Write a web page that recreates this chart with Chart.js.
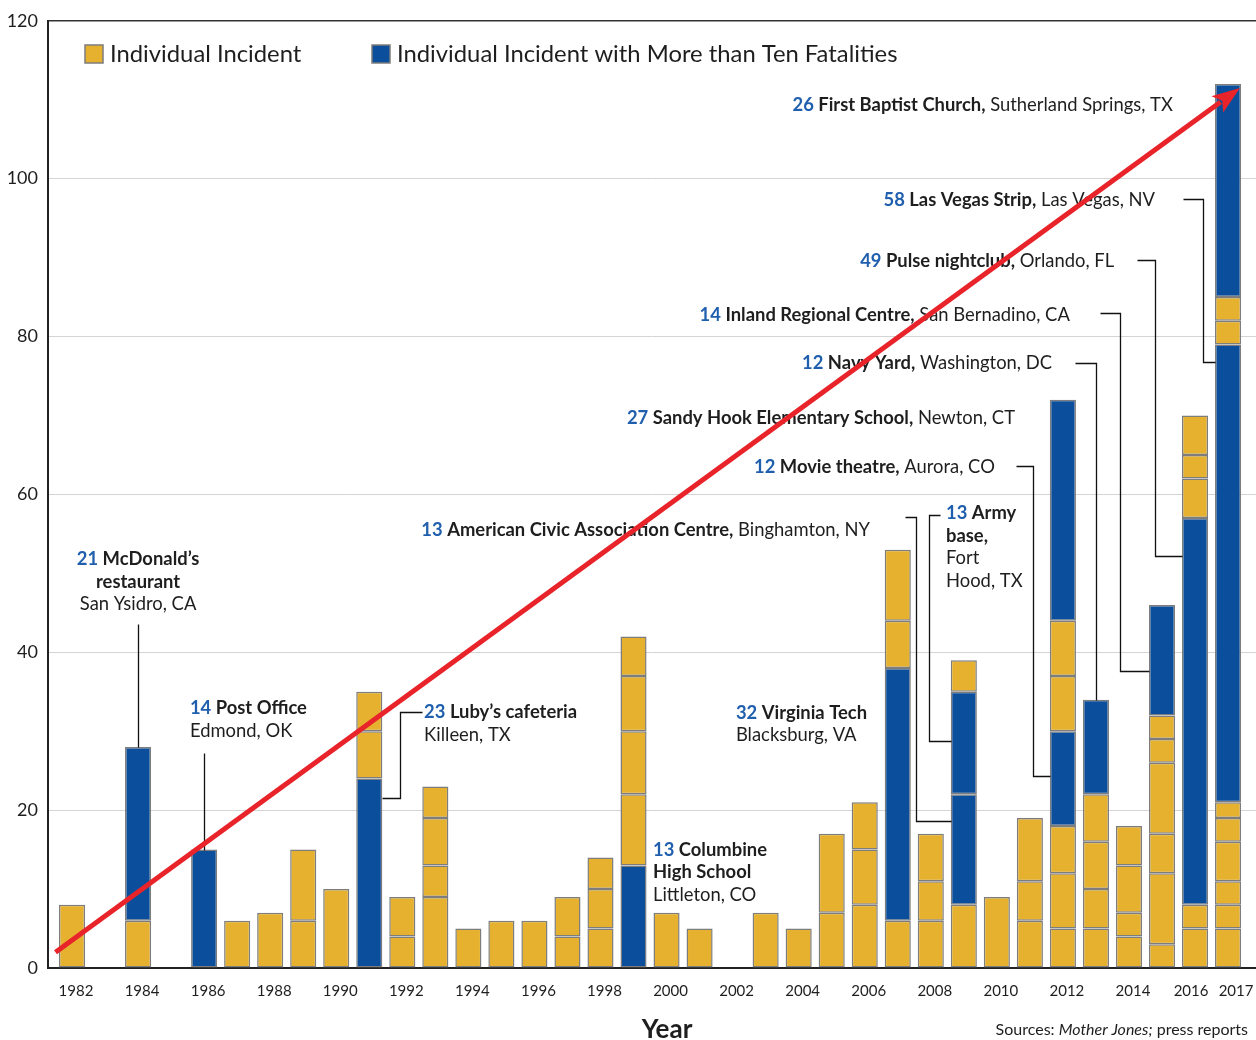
<!DOCTYPE html>
<html>
<head>
<meta charset="utf-8">
<script src="https://cdn.jsdelivr.net/npm/chart.js@4.4.0/dist/chart.umd.min.js"></script>
<style>
  html, body { margin: 0; padding: 0; background: #fff; }
  #wrap { width: 1256px; height: 1040px; }
</style>
</head>
<body>
<div id="wrap"><canvas id="chart" width="1256" height="1040"></canvas></div>
<script>
// years on the x axis
var years = [1982, 1983, 1984, 1985, 1986, 1987, 1988, 1989, 1990, 1991, 1992, 1993,
             1994, 1995, 1996, 1997, 1998, 1999, 2000, 2001, 2002, 2003, 2004, 2005,
             2006, 2007, 2008, 2009, 2010, 2011, 2012, 2013, 2014, 2015, 2016, 2017];

// fatalities of each incident in a year, bottom of the stack first
var incidents = [
  [8], [], [6, 22], [], [15], [6], [7], [6, 9], [10], [24, 6, 5], [4, 5], [9, 4, 6, 4],
  [5], [6], [6], [4, 5], [5, 5, 4], [13, 9, 8, 7, 5], [7], [5], [], [7], [5], [7, 10],
  [8, 7, 6], [6, 32, 6, 9], [6, 5, 6], [8, 14, 13, 4], [9], [6, 5, 8],
  [5, 7, 6, 12, 7, 7, 28], [5, 5, 6, 6, 12], [4, 3, 6, 5], [3, 9, 5, 9, 3, 3, 14],
  [5, 3, 49, 5, 3, 5], [5, 3, 3, 5, 3, 2, 58, 3, 3, 27]
];

var xTickYears = [1982, 1984, 1986, 1988, 1990, 1992, 1994, 1996, 1998, 2000,
                  2002, 2004, 2006, 2008, 2010, 2012, 2014, 2016, 2017];
var legendLabels = ['Individual Incident', 'Individual Incident with More than Ten Fatalities'];
var bigIncident = 10;

// trend arrow, in axis units [year, fatalities]
var trendArrow = [[1981.5, 2], [2017.36, 111.5]];

var YELLOW = '#e6b12e';
var BLUE = '#0b4f9c';
var EDGE = '#7d7d7d';
var NUM_BLUE = '#1f5fae';
var TXT = '#1e1e1e';

// callouts: n = blue number, b = bold, r = regular, i = italic
var notes = [
  { at: [1984, 51.8], align: 'center',
    lines: [[['n', '21'], ['b', ' McDonald’s']], [['b', 'restaurant']], [['r', 'San Ysidro, CA']]],
    leader: { path: [[1984, 43.6]], bar: 1984, edge: 'top' } },
  { at: [1985.57, 32.9], align: 'left',
    lines: [[['n', '14'], ['b', ' Post Office']], [['r', 'Edmond, OK']]],
    leader: { path: [[1986, 27.3]], bar: 1986, edge: 'top' } },
  { at: [1992.66, 32.4], align: 'left',
    lines: [[['n', '23'], ['b', ' Luby’s cafeteria']], [['r', 'Killeen, TX']]],
    leader: { path: [[1992.6, 32.4], [1991.93, 32.4], [1991.93, 21.5]], bar: 1991, edge: 'right' } },
  { at: [1999.59, 15.0], align: 'left',
    lines: [[['n', '13'], ['b', ' Columbine']], [['b', 'High School']], [['r', 'Littleton, CO']]] },
  { at: [2002.1, 32.3], align: 'left',
    lines: [[['n', '32'], ['b', ' Virginia Tech']], [['r', 'Blacksburg, VA']]] },
  { at: [2006.16, 55.5], align: 'right',
    lines: [[['n', '13'], ['b', ' American Civic Association Centre,'], ['r', ' Binghamton, NY']]],
    leader: { path: [[2007.22, 57.2], [2007.55, 57.2], [2007.55, 18.6]], bar: 2009, edge: 'left' } },
  { at: [2008.46, 57.6], align: 'left',
    lines: [[['n', '13'], ['b', ' Army']], [['b', 'base,']], [['r', 'Fort']], [['r', 'Hood, TX']]],
    leader: { path: [[2008.28, 57.4], [2007.95, 57.4], [2007.95, 28.8]], bar: 2009, edge: 'left' } },
  { at: [2009.94, 63.5], align: 'right',
    lines: [[['n', '12'], ['b', ' Movie theatre,'], ['r', ' Aurora, CO']]],
    leader: { path: [[2010.58, 63.6], [2011.09, 63.6], [2011.09, 24.3]], bar: 2012, edge: 'left' } },
  { at: [2010.55, 69.7], align: 'right',
    lines: [[['n', '27'], ['b', ' Sandy Hook Elementary School,'], ['r', ' Newton, CT']]] },
  { at: [2011.67, 76.7], align: 'right',
    lines: [[['n', '12'], ['b', ' Navy Yard,'], ['r', ' Washington, DC']]],
    leader: { path: [[2012.37, 76.7], [2013, 76.7]], bar: 2013, edge: 'top' } },
  { at: [2012.21, 82.7], align: 'right',
    lines: [[['n', '14'], ['b', ' Inland Regional Centre,'], ['r', ' San Bernadino, CA']]],
    leader: { path: [[2013.12, 83.0], [2013.73, 83.0], [2013.73, 37.6]], bar: 2015, edge: 'left' } },
  { at: [2013.55, 89.6], align: 'right',
    lines: [[['n', '49'], ['b', ' Pulse nightclub,'], ['r', ' Orlando, FL']]],
    leader: { path: [[2014.24, 89.7], [2014.79, 89.7], [2014.79, 52.2]], bar: 2016, edge: 'left' } },
  { at: [2014.79, 97.3], align: 'right',
    lines: [[['n', '58'], ['b', ' Las Vegas Strip,'], ['r', ' Las Vegas, NV']]],
    leader: { path: [[2015.64, 97.4], [2016.24, 97.4], [2016.24, 76.8]], bar: 2017, edge: 'left' } },
  { at: [2015.33, 109.3], align: 'right',
    lines: [[['n', '26'], ['b', ' First Baptist Church,'], ['r', ' Sutherland Springs, TX']]] }
];

var FONT = 'Lato, "Open Sans", sans-serif';
var NOTE_SIZE = 18.4;
var LINE_H = 22.5;

function runFont(kind) {
  if (kind === 'n' || kind === 'b') return 'bold ' + NOTE_SIZE + 'px ' + FONT;
  if (kind === 'i') return 'italic ' + NOTE_SIZE + 'px ' + FONT;
  return NOTE_SIZE + 'px ' + FONT;
}

function drawRuns(ctx, runs, x, y, align, fontFn) {
  var total = 0;
  runs.forEach(function (r) { ctx.font = fontFn(r[0]); total += ctx.measureText(r[1]).width; });
  var cx = align === 'left' ? x : align === 'right' ? x - total : x - total / 2;
  ctx.textAlign = 'left';
  ctx.textBaseline = 'middle';
  runs.forEach(function (r) {
    ctx.font = fontFn(r[0]);
    ctx.fillStyle = r[0] === 'n' ? NUM_BLUE : TXT;
    ctx.fillText(r[1], cx, y);
    cx += ctx.measureText(r[1]).width;
  });
}

var maxLayers = Math.max.apply(null, incidents.map(function (l) { return l.length; }));
var datasets = [];
for (var k = 0; k < maxLayers; k++) {
  datasets.push({
    label: 'layer ' + k,
    data: incidents.map(function (l) { return l[k] === undefined ? null : l[k]; }),
    backgroundColor: function (c) { return c.raw > bigIncident ? BLUE : YELLOW; },
    borderColor: EDGE,
    borderWidth: 1.5,
    borderSkipped: false,
    barPercentage: 0.79,
    categoryPercentage: 1
  });
}

var extras = {
  id: 'extras',
  afterDatasetsDraw: function (chart) {
    var ctx = chart.ctx;
    var xs = chart.scales.x, ys = chart.scales.y;
    var area = chart.chartArea;
    var bars = chart.getDatasetMeta(0).data;
    ctx.save();

    // legend
    var lx = [area.left + 37, area.left + 324];
    [YELLOW, BLUE].forEach(function (col, i) {
      ctx.fillStyle = col;
      ctx.fillRect(lx[i], 45, 18, 18);
      ctx.strokeStyle = EDGE;
      ctx.lineWidth = 1.5;
      ctx.strokeRect(lx[i], 45, 18, 18);
      ctx.fillStyle = TXT;
      ctx.font = '23.8px ' + FONT;
      ctx.textAlign = 'left';
      ctx.textBaseline = 'middle';
      ctx.fillText(legendLabels[i], lx[i] + 25, 54);
    });

    // x tick labels
    ctx.font = '15px ' + FONT;
    ctx.fillStyle = TXT;
    ctx.textAlign = 'center';
    ctx.textBaseline = 'middle';
    xTickYears.forEach(function (yr) {
      var nudge = yr === 2016 ? -4 : yr === 2017 ? 8 : 4;
      ctx.fillText(String(yr), xs.getPixelForValue(yr) + nudge, area.bottom + 23);
    });

    // axis title and source
    ctx.font = 'bold 26px ' + FONT;
    ctx.fillText('Year', 667, area.bottom + 62);
    drawRuns(ctx, [['r', 'Sources: '], ['i', 'Mother Jones;'], ['r', ' press reports']],
      1248, area.bottom + 62, 'right', function (k) {
        return (k === 'i' ? 'italic ' : '') + '16px ' + FONT;
      });

    // callouts
    notes.forEach(function (n) {
      var x0 = xs.getPixelForValue(n.at[0]);
      var y0 = ys.getPixelForValue(n.at[1]);
      n.lines.forEach(function (runs, li) {
        drawRuns(ctx, runs, x0, y0 + li * LINE_H, n.align, runFont);
      });
      if (!n.leader) return;
      var L = n.leader;
      var idx = years.indexOf(L.bar);
      var bar = bars[idx];
      var pts = L.path.map(function (p) { return [xs.getPixelForValue(p[0]), ys.getPixelForValue(p[1])]; });
      var last = pts[pts.length - 1];
      if (L.edge === 'top') {
        var total = incidents[idx].reduce(function (a, b) { return a + b; }, 0);
        pts.push([bar.x, ys.getPixelForValue(total)]);
      } else if (L.edge === 'left') {
        pts.push([bar.x - bar.width / 2, last[1]]);
      } else {
        pts.push([bar.x + bar.width / 2, last[1]]);
      }
      ctx.beginPath();
      ctx.strokeStyle = '#111';
      ctx.lineWidth = 1.3;
      pts.forEach(function (p, i) {
        if (i === 0) ctx.moveTo(Math.round(p[0]) + 0.5, Math.round(p[1]) + 0.5);
        else ctx.lineTo(Math.round(p[0]) + 0.5, Math.round(p[1]) + 0.5);
      });
      ctx.stroke();
    });

    // red trend arrow
    var ax0 = xs.getPixelForValue(trendArrow[0][0]), ay0 = ys.getPixelForValue(trendArrow[0][1]);
    var ax1 = xs.getPixelForValue(trendArrow[1][0]), ay1 = ys.getPixelForValue(trendArrow[1][1]);
    var ang = Math.atan2(ay1 - ay0, ax1 - ax0);
    var headLen = 28, headHalf = 10;
    var bx = ax1 - headLen * Math.cos(ang), by = ay1 - headLen * Math.sin(ang);
    ctx.strokeStyle = '#e8232a';
    ctx.fillStyle = '#e8232a';
    ctx.lineWidth = 5;
    ctx.lineCap = 'butt';
    ctx.beginPath();
    ctx.moveTo(ax0, ay0);
    ctx.lineTo(bx + 4 * Math.cos(ang), by + 4 * Math.sin(ang));
    ctx.stroke();
    ctx.beginPath();
    ctx.moveTo(ax1, ay1);
    ctx.lineTo(bx + headHalf * Math.sin(ang), by - headHalf * Math.cos(ang));
    ctx.lineTo(bx + 6 * Math.cos(ang), by + 6 * Math.sin(ang));
    ctx.lineTo(bx - headHalf * Math.sin(ang), by + headHalf * Math.cos(ang));
    ctx.closePath();
    ctx.fill();

    ctx.restore();
  }
};

Chart.defaults.font.family = FONT;

var ctx = document.getElementById('chart').getContext('2d');
var chart = new Chart(ctx, {
  type: 'bar',
  data: { labels: years, datasets: datasets },
  plugins: [extras],
  options: {
    responsive: false,
    animation: false,
    layout: { padding: { top: 20, right: 0, bottom: 72, left: 0 } },
    plugins: { legend: { display: false }, tooltip: { enabled: false } },
    scales: {
      x: {
        type: 'linear',
        stacked: true,
        offset: false,
        min: 1981.273,
        max: 2017.846,
        grid: { display: false },
        border: { display: true, color: '#222', width: 2 },
        ticks: { display: false },
        afterFit: function (s) { s.height = 0; }
      },
      y: {
        stacked: true,
        min: 0,
        max: 120,
        afterFit: function (s) { s.width = 48; },
        ticks: { stepSize: 20, padding: 10, color: TXT, font: { size: 18 } },
        grid: {
          drawTicks: false,
          color: function (c) { return c.tick && c.tick.value === 120 ? '#333' : '#d4d4d4'; },
          lineWidth: function (c) { return c.tick && c.tick.value === 120 ? 1.5 : 1; }
        },
        border: { color: '#222', width: 2 }
      }
    }
  }
});
</script>
</body>
</html>
